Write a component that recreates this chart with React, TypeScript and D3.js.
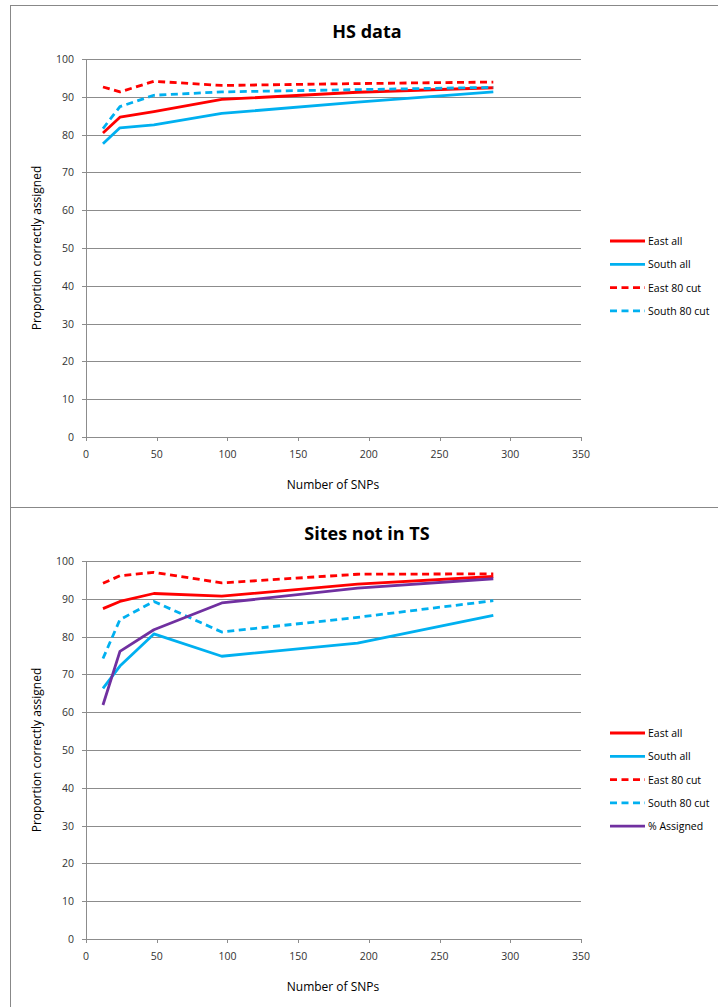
import React from "react";
import * as d3 from "d3";

// Number of SNPs used for each assignment run
const snps = [12, 24, 48, 96, 192, 288];

// HS data
const hsEastAll = [80.4, 84.6, 86.1, 89.3, 91.2, 92.4];
const hsSouthAll = [77.6, 81.8, 82.6, 85.6, 88.6, 91.3];
const hsEast80 = [92.6, 91.3, 94.1, 93.0, 93.5, 93.9];
const hsSouth80 = [81.6, 87.4, 90.4, 91.3, 91.9, 92.5];

// Sites not in TS
const ntEastAll = [87.4, 89.3, 91.4, 90.7, 93.9, 95.9];
const ntSouthAll = [66.3, 72.2, 80.7, 74.8, 78.3, 85.6];
const ntEast80 = [94.1, 96.1, 97.0, 94.2, 96.5, 96.6];
const ntSouth80 = [74.2, 84.5, 89.3, 81.2, 85.1, 89.5];
const ntAssigned = [61.9, 76.1, 81.8, 88.9, 92.8, 95.3];

const xTicks = [0, 50, 100, 150, 200, 250, 300, 350];
const yTicks = [0, 10, 20, 30, 40, 50, 60, 70, 80, 90, 100];

const RED = "#FF0000";
const BLUE = "#00B0F0";
const PURPLE = "#7030A0";
const GRID = "#8c8c8c";
const FONT = "'Open Sans', 'Noto Sans', sans-serif";

type Series = { name: string; values: number[]; color: string; dashed: boolean };

const hsSeries: Series[] = [
  { name: "East all", values: hsEastAll, color: RED, dashed: false },
  { name: "South all", values: hsSouthAll, color: BLUE, dashed: false },
  { name: "East 80 cut", values: hsEast80, color: RED, dashed: true },
  { name: "South 80 cut", values: hsSouth80, color: BLUE, dashed: true },
];

const ntSeries: Series[] = [
  { name: "East all", values: ntEastAll, color: RED, dashed: false },
  { name: "South all", values: ntSouthAll, color: BLUE, dashed: false },
  { name: "East 80 cut", values: ntEast80, color: RED, dashed: true },
  { name: "South 80 cut", values: ntSouth80, color: BLUE, dashed: true },
  { name: "% Assigned", values: ntAssigned, color: PURPLE, dashed: false },
];

function Chart({ top, title, series, legendTop }: { top: number; title: string; series: Series[]; legendTop: number }) {
  const x = d3.scaleLinear().domain([0, 350]).range([86, 581]);
  const y = d3.scaleLinear().domain([0, 100]).range([top + 432, top + 54]);
  const line = d3
    .line<number>()
    .x((_, i) => x(snps[i]))
    .y((d) => y(d));
  const plotMid = (y(0) + y(100)) / 2;
  return (
    <g>
      <rect x={10.5} y={top + 0.5} width={720} height={502} fill="#fff" stroke="#888" strokeWidth={1} />
      <text x={367} y={top + 33} textAnchor="middle" fontFamily={FONT} fontWeight="bold" fontSize={18} fill="#000">
        {title}
      </text>
      {yTicks.map((t) => (
        <g key={"y" + t}>
          {t > 0 && <line x1={x(0)} x2={x(350)} y1={Math.round(y(t)) + 0.5} y2={Math.round(y(t)) + 0.5} stroke={GRID} strokeWidth={1} />}
          <line x1={x(0) - 4} x2={x(0)} y1={Math.round(y(t)) + 0.5} y2={Math.round(y(t)) + 0.5} stroke={GRID} />
          <text x={x(0) - 12} y={y(t) + 4} textAnchor="end" fontFamily={FONT} fontSize={10.5} fill="#333">
            {t}
          </text>
        </g>
      ))}
      {xTicks.map((t) => (
        <g key={"x" + t}>
          <line x1={Math.round(x(t)) + 0.5} x2={Math.round(x(t)) + 0.5} y1={y(0)} y2={y(0) + 4} stroke={GRID} />
          <text x={x(t)} y={y(0) + 21} textAnchor="middle" fontFamily={FONT} fontSize={10.5} fill="#333">
            {t}
          </text>
        </g>
      ))}
      <line x1={Math.round(x(0)) + 0.5} x2={Math.round(x(0)) + 0.5} y1={y(100)} y2={y(0)} stroke={GRID} />
      <line x1={x(0)} x2={x(350)} y1={Math.round(y(0)) + 0.5} y2={Math.round(y(0)) + 0.5} stroke={GRID} />
      <text
        transform={`translate(41,${plotMid}) rotate(-90)`}
        textAnchor="middle"
        fontFamily={FONT}
        fontSize={12}
        fill="#000"
      >
        Proportion correctly assigned
      </text>
      <text x={333} y={y(0) + 52} textAnchor="middle" fontFamily={FONT} fontSize={12} fill="#000">
        Number of SNPs
      </text>
      {series.map((s) => (
        <path
          key={s.name}
          d={line(s.values) || ""}
          fill="none"
          stroke={s.color}
          strokeWidth={2.8}
          strokeDasharray={s.dashed ? "7 4.5" : undefined}
          strokeLinejoin="round"
        />
      ))}
      {series.map((s, i) => {
        const ly = legendTop + i * 23.3;
        return (
          <g key={"l" + s.name}>
            <line x1={610} x2={645} y1={ly} y2={ly} stroke={s.color} strokeWidth={2.8} strokeDasharray={s.dashed ? "7 4.5" : undefined} />
            <text x={648} y={ly + 4} fontFamily={FONT} fontSize={10.5} fill="#000">
              {s.name}
            </text>
          </g>
        );
      })}
    </g>
  );
}

export default function App() {
  return (
    <svg width={718} height={1007} style={{ position: "absolute", left: 0, top: 0, background: "#fff" }}>
      <rect width={718} height={1007} fill="#fff" />
      <Chart top={5} title="HS data" series={hsSeries} legendTop={241} />
      <Chart top={507} title="Sites not in TS" series={ntSeries} legendTop={733} />
    </svg>
  );
}
